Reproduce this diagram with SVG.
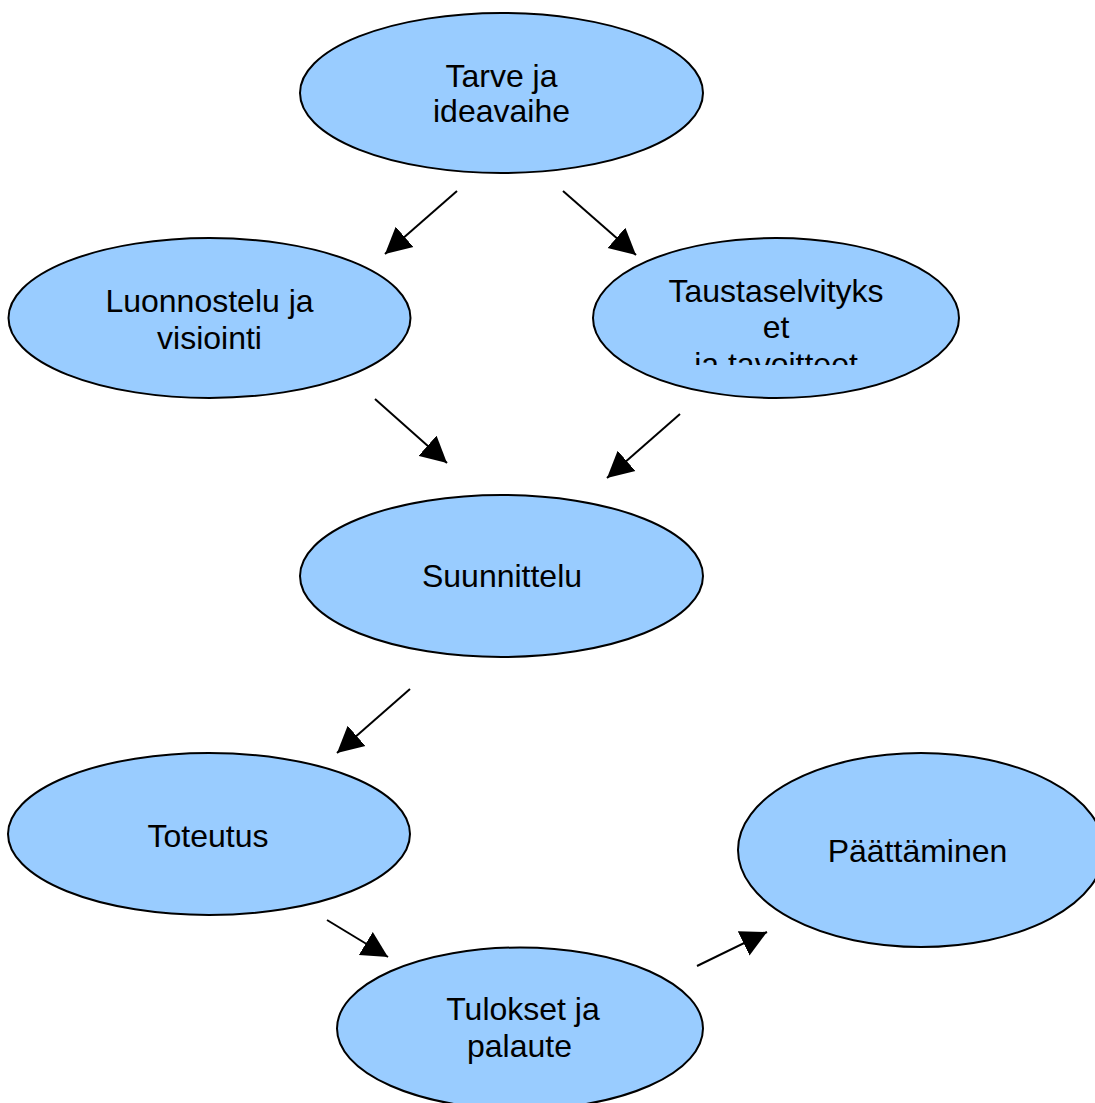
<svg xmlns="http://www.w3.org/2000/svg" width="1095" height="1103" viewBox="0 0 1095 1103">
<style>
.node ellipse{fill:#99ccff;stroke:#000;stroke-width:2}
.node text{font-family:"Liberation Sans",Arial,sans-serif;font-size:32px;fill:#000;text-anchor:middle}
.edge{stroke:#000;stroke-width:2;fill:none;marker-end:url(#arr)}
</style>
<defs>
<marker id="arr" markerUnits="userSpaceOnUse" markerWidth="27" markerHeight="28" refX="26" refY="13.5" orient="auto" viewBox="0 0 27 27">
<path d="M0,0 L26,13.5 L0,27 Z" fill="#000"/>
</marker>
<clipPath id="clipT"><rect x="590" y="230" width="380" height="135"/></clipPath>
</defs>
<rect width="1095" height="1103" fill="#fff"/>
<g id="connectors">
<line class="edge" x1="457" y1="191" x2="385" y2="254"/>
<line class="edge" x1="563" y1="191" x2="636" y2="255"/>
<line class="edge" x1="375" y1="399" x2="447" y2="463"/>
<line class="edge" x1="680" y1="414" x2="607" y2="478"/>
<line class="edge" x1="410" y1="689" x2="337" y2="753"/>
<line class="edge" x1="327" y1="920" x2="388" y2="957"/>
<line class="edge" x1="697" y1="966" x2="767" y2="932"/>
</g>
<g id="n-tarve" class="node">
<ellipse cx="501.5" cy="93" rx="201.5" ry="80"/>
<text x="501.5" y="86.5">Tarve ja</text>
<text x="501.5" y="121.5">ideavaihe</text>
</g>
<g id="n-luonnostelu" class="node">
<ellipse cx="209.5" cy="318" rx="201" ry="80"/>
<text x="209.5" y="311.5">Luonnostelu ja</text>
<text x="209.5" y="348.5">visiointi</text>
</g>
<g id="n-tausta" class="node">
<ellipse cx="776" cy="318" rx="183" ry="80"/>
<g clip-path="url(#clipT)">
<text x="776" y="301.5">Taustaselvityks</text>
<text x="776" y="338">et</text>
<text x="776" y="374.5">ja tavoitteet</text>
</g>
</g>
<g id="n-suunnittelu" class="node">
<ellipse cx="501.5" cy="576" rx="201.5" ry="81"/>
<text x="502" y="586.5">Suunnittelu</text>
</g>
<g id="n-toteutus" class="node">
<ellipse cx="209" cy="834" rx="201" ry="81"/>
<text x="208" y="847">Toteutus</text>
</g>
<g id="n-paattaminen" class="node">
<ellipse cx="921" cy="850" rx="183" ry="97"/>
<text x="917.5" y="861.5">Päättäminen</text>
</g>
<g id="n-tulokset" class="node">
<ellipse cx="520" cy="1028.5" rx="183" ry="81"/>
<text x="523" y="1020">Tulokset ja</text>
<text x="519.5" y="1056.5">palaute</text>
</g>
</svg>
